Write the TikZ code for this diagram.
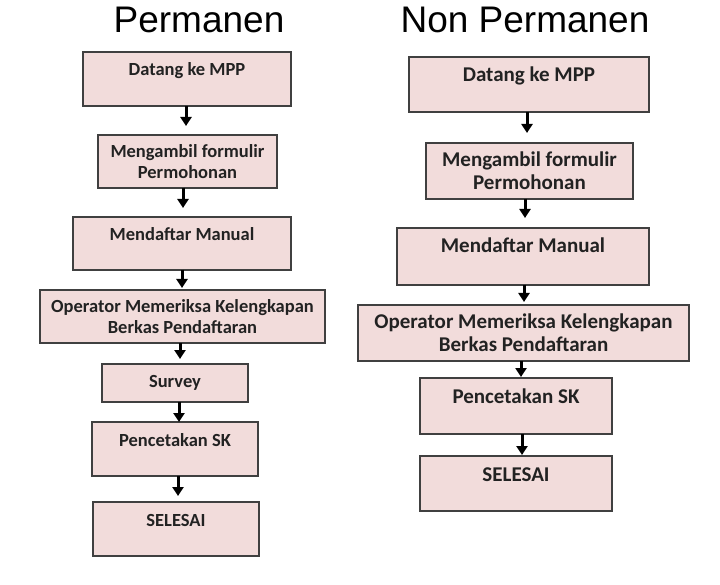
\documentclass[tikz,border=0pt]{standalone}
\usepackage{fontspec}
\setmainfont{Carlito}
\newfontfamily\titlefont{Liberation Sans}
\usetikzlibrary{arrows.meta,calc}
\definecolor{boxfill}{HTML}{F2DCDB}
\definecolor{boxline}{HTML}{404040}
\definecolor{txtcol}{HTML}{222222}
\tikzset{
  box/.style={draw=boxline, line width=1.6pt, fill=boxfill, inner sep=0pt, outer sep=0pt},
  txtL/.style={font=\bfseries\fontsize{18.5}{21}\selectfont, text=txtcol, align=center, inner sep=0pt},
  txtR/.style={font=\bfseries\fontsize{21}{23}\selectfont, text=txtcol, align=center, inner sep=0pt},
  toptxtL/.style={label={[txtL, anchor=base, yshift=-24pt]north:#1}},
  toptxtR/.style={label={[txtR, anchor=base, yshift=-25pt]north:#1}},
  arr/.style={line width=3pt, -{Triangle[width=11pt,length=9pt]}},
  ttl/.style={font=\titlefont\fontsize{37}{40}\selectfont, text=black, inner sep=0pt}
}
\begin{document}
\begin{tikzpicture}[x=1pt,y=-1pt]
\useasboundingbox[fill=white] (0,0) rectangle (720,585);
% titles
\node[ttl, anchor=base] (tL) at (199,33) {Permanen};
\node[ttl, anchor=base] (tR) at (525,33) {Non Permanen};
% left column
\node[box, minimum width=208, minimum height=54, toptxtL={Datang ke MPP}] (L1) at (187,79) {};
\node[box, minimum width=179, minimum height=53, txtL] (L2) at (187.5,161.5) {Mengambil formulir\\Permohonan};
\node[box, minimum width=218, minimum height=53, toptxtL={Mendaftar Manual}] (L3) at (182,243.5) {};
\node[box, minimum width=285, minimum height=53, txtL] (L4) at (182.5,316.5) {Operator Memeriksa Kelengkapan\\Berkas Pendaftaran};
\node[box, minimum width=146, minimum height=38, txtL] (L5) at (175,383) {Survey};
\node[box, minimum width=166, minimum height=54, toptxtL={Pencetakan SK}] (L6) at (175,449) {};
\node[box, minimum width=166, minimum height=54, toptxtL={SELESAI}] (L7) at (176,529) {};
% right column
\node[box, minimum width=240, minimum height=55, toptxtR={Datang ke MPP}] (R1) at (529,84.5) {};
\node[box, minimum width=207, minimum height=56, txtR] (R2) at (529.5,171) {Mengambil formulir\\Permohonan};
\node[box, minimum width=252, minimum height=57, toptxtR={Mendaftar Manual}] (R3) at (523,256.5) {};
\node[box, minimum width=331, minimum height=56, txtR] (R4) at (523.5,333) {Operator Memeriksa Kelengkapan\\Berkas Pendaftaran};
\node[box, minimum width=192, minimum height=56, toptxtR={Pencetakan SK}] (R5) at (516,406) {};
\node[box, minimum width=192, minimum height=55, toptxtR={SELESAI}] (R6) at (516,483.5) {};
% left arrows
\draw[arr, shorten >=9pt] ($(L1.south)+(-1,0)$) -- ($(L2.north)+(-1.5,0)$);
\draw[arr, shorten >=9pt] ($(L2.south)+(-4.5,0)$) -- ($(L3.north)+(1,0)$);
\draw[arr, shorten >=2pt] ($(L3.south)+(0,0)$) -- ($(L4.north)+(-0.5,0)$);
\draw[arr, shorten >=5pt] ($(L4.south)+(-2.5,0)$) -- ($(L5.north)+(5,0)$);
\draw[arr] ($(L5.south)+(4,0)$) -- ($(L6.north)+(4,0)$);
\draw[arr, shorten >=6pt] ($(L6.south)+(3,0)$) -- ($(L7.north)+(2,0)$);
% right arrows
\draw[arr, shorten >=10pt] ($(R1.south)+(-2,0)$) -- ($(R2.north)+(-2.5,0)$);
\draw[arr, shorten >=10pt] ($(R2.south)+(-4.5,0)$) -- ($(R3.north)+(2,0)$);
\draw[arr, shorten >=3pt] ($(R3.south)+(1,0)$) -- ($(R4.north)+(0.5,0)$);
\draw[arr, shorten >=1pt] ($(R4.south)+(-2.5,0)$) -- ($(R5.north)+(5,0)$);
\draw[arr, shorten >=1pt] ($(R5.south)+(6,0)$) -- ($(R6.north)+(6,0)$);
\end{tikzpicture}
\end{document}
